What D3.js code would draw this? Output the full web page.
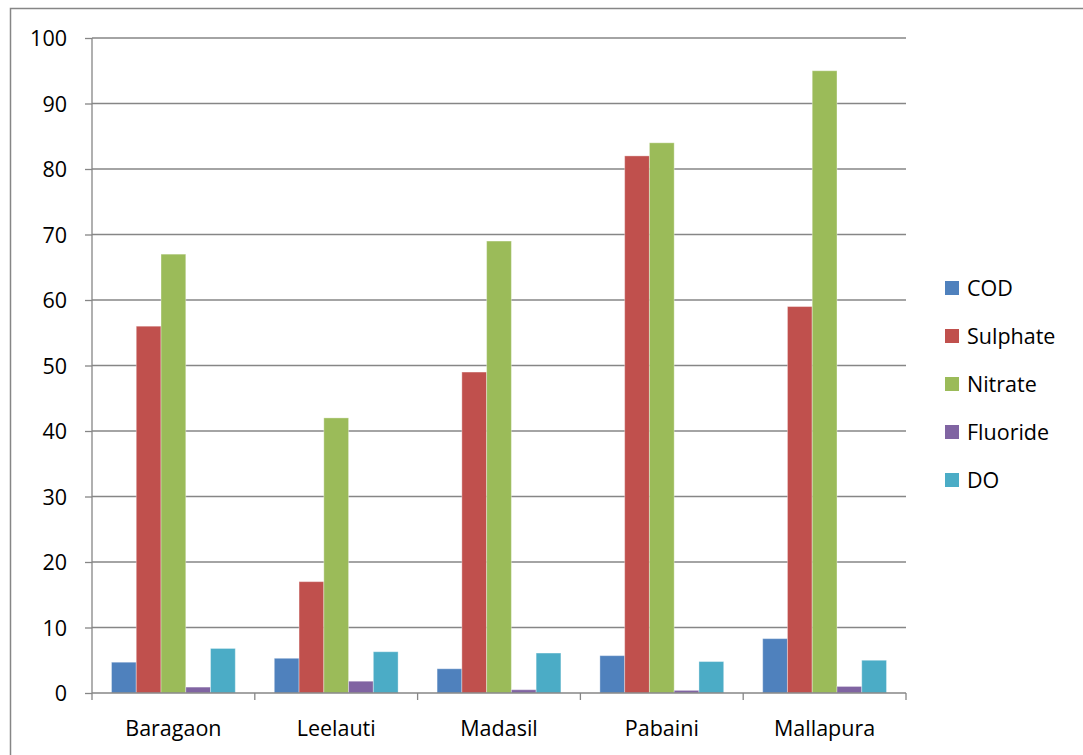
<!DOCTYPE html>
<html>
<head>
<meta charset="utf-8">
<script src="https://cdn.jsdelivr.net/npm/d3@7"></script>
<style>
  body { margin: 0; background: #fff; }
  svg text { font-family: "Open Sans", "Liberation Sans", Arial, sans-serif; fill: #000; }
</style>
</head>
<body>
<div class="chart"></div>
<script>
// village names and measured parameters
const villages = ['Baragaon', 'Leelauti', 'Madasil', 'Pabaini', 'Mallapura'];
const params = ['COD', 'Sulphate', 'Nitrate', 'Fluoride', 'DO'];
const cod = [4.7, 5.3, 3.7, 5.7, 8.3];
const sulphate = [56, 17, 49, 82, 59];
const nitrate = [67, 42, 69, 84, 95];
const fluoride = [0.9, 1.8, 0.5, 0.4, 1.0];
const dox = [6.8, 6.3, 6.1, 4.8, 5.0];
const yTicks = [0, 10, 20, 30, 40, 50, 60, 70, 80, 90, 100];
const colors = ['#4F81BD', '#C0504D', '#9BBB59', '#8064A2', '#4BACC6'];

const series = [cod, sulphate, nitrate, fluoride, dox];

const width = 1083;
const height = 755;
const svg = d3.select('.chart')
  .append('svg')
  .attr('width', width)
  .attr('height', height);

// outer chart border
svg.append('rect')
  .attr('x', 10.5).attr('y', 8.5)
  .attr('width', 1090).attr('height', 770)
  .attr('fill', 'none')
  .attr('stroke', '#868686')
  .attr('stroke-width', 1.5);

const x = d3.scaleBand().domain(villages).range([92, 906]).padding(0);
const inner = d3.scaleBand().domain(params)
  .range([19.5, x.bandwidth() - 19.5]).padding(0);
const y = d3.scaleLinear().domain([0, 100]).range([693, 38]);

// gridlines
svg.selectAll('line.grid')
  .data(yTicks.filter(d => d > 0))
  .enter()
  .append('line')
  .attr('class', 'grid')
  .attr('x1', 92).attr('x2', 906)
  .attr('y1', d => y(d)).attr('y2', d => y(d))
  .attr('stroke', '#868686')
  .attr('stroke-width', 1.3);

// bars
villages.forEach((v, i) => {
  const g = svg.append('g').attr('transform', `translate(${x(v)},0)`);
  g.selectAll('rect')
    .data(params.map((p, j) => ({p: p, val: series[j][i], c: colors[j]})))
    .enter()
    .append('rect')
    .attr('x', d => inner(d.p))
    .attr('width', inner.bandwidth())
    .attr('y', d => y(d.val))
    .attr('height', d => y(0) - y(d.val))
    .attr('fill', d => d.c)
    .attr('stroke', 'rgba(255,255,255,0.35)')
    .attr('stroke-width', 1);
});

// y axis
const yAxis = svg.append('g')
  .attr('transform', 'translate(92,0)')
  .call(d3.axisLeft(y).tickValues(yTicks).tickSize(7).tickPadding(18));
yAxis.select('.domain').attr('stroke', '#868686').attr('stroke-width', 1.3)
  .attr('d', 'M0,38V693');
yAxis.selectAll('.tick line').attr('stroke', '#868686').attr('stroke-width', 1.3);
yAxis.selectAll('.tick text').attr('font-size', 21.5).attr('dy', '0.36em');

// x axis
const xAxis = svg.append('g')
  .attr('transform', 'translate(0,693)')
  .call(d3.axisBottom(x).tickSize(0));
xAxis.select('.domain').attr('stroke', '#868686').attr('stroke-width', 1.3)
  .attr('d', 'M92,0H906');
xAxis.selectAll('.tick text').attr('font-size', 21.5).attr('y', 43).attr('dy', 0);
xAxis.selectAll('line.sep')
  .data(d3.range(villages.length + 1))
  .enter()
  .append('line')
  .attr('class', 'sep')
  .attr('x1', i => 92 + i * x.bandwidth())
  .attr('x2', i => 92 + i * x.bandwidth())
  .attr('y1', 0).attr('y2', 7)
  .attr('stroke', '#868686').attr('stroke-width', 1.3);

// legend
const legend = svg.selectAll('g.legend')
  .data(params)
  .enter()
  .append('g')
  .attr('class', 'legend')
  .attr('transform', (d, i) => `translate(945,${288 + i * 48})`);
legend.append('rect')
  .attr('x', 0).attr('y', -7)
  .attr('width', 14).attr('height', 14)
  .attr('fill', (d, i) => colors[i]);
legend.append('text')
  .attr('x', 22).attr('y', 0)
  .attr('dy', '0.36em')
  .attr('font-size', 21.5)
  .text(d => d);
</script>
</body>
</html>
